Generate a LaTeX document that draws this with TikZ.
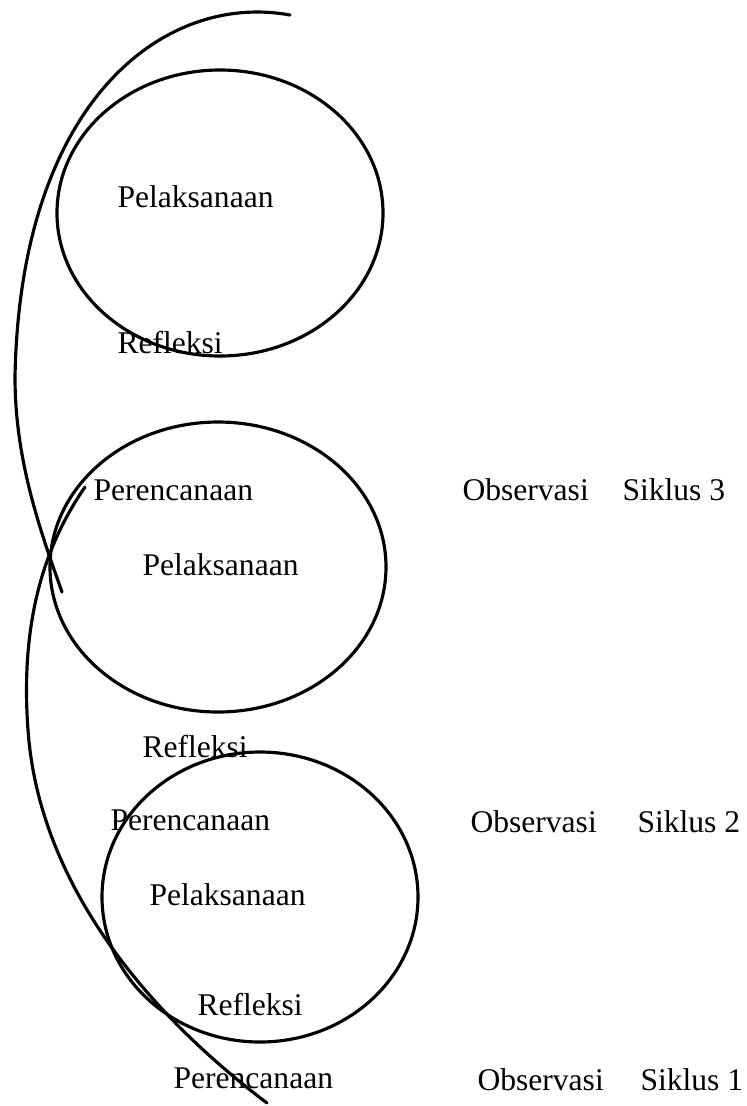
\documentclass[tikz,border=0pt]{standalone}
\usepackage{fontspec}
\setmainfont{Liberation Serif}
\usepackage{tikz}
\tikzset{>=latex}
\usetikzlibrary{calc}
\tikzset{lbl/.style={anchor=base west,inner sep=0pt,font=\fontsize{12}{14}\selectfont}}

\begin{document}
\begin{tikzpicture}[line cap=round,line join=round,x=0.38pt,y=-0.38pt]
			\useasboundingbox (0,0) rectangle (747,1106);
			\draw[line width=1.2pt] (220,213) ellipse [x radius=163,y radius=143];
			\draw[line width=1.2pt] (218,567) ellipse [x radius=168,y radius=145];
			\draw[line width=1.2pt] (260,897) ellipse [x radius=158,y radius=145];
			\draw[line width=1.2pt] (290,15) .. controls (165,-8) and (20,100) .. (15,377)
				.. controls (15,460) and (40,530) .. (62,592);
			\draw[line width=1.2pt] (85,487) .. controls (45,545) and (20,620) .. (28,730)
				.. controls (40,900) and (170,1030) .. (267,1103);
			\node[lbl] (pel3) at (117,207) {Pelaksanaan};
			\node[lbl] (ref3) at (117,353) {Refleksi};
			\node[lbl] (per3) at (93,500) {Perencanaan};
			\node[lbl] (obs3) at (462,500) {Observasi};
			\node[lbl] (sik3) at (622,500) {Siklus 3};
			\node[lbl] (pel2) at (142,575) {Pelaksanaan};
			\node[lbl] (ref2) at (142,757) {Refleksi};
			\node[lbl] (per2) at (110,830) {Perencanaan};
			\node[lbl] (obs2) at (470,832) {Observasi};
			\node[lbl] (sik2) at (637,832) {Siklus 2};
			\node[lbl] (pel1) at (149,905) {Pelaksanaan};
			\node[lbl] (ref1) at (197,1015) {Refleksi};
			\node[lbl] (per1) at (173,1088) {Perencanaan};
			\node[lbl] (obs1) at (477,1090) {Observasi};
			\node[lbl] (sik1) at (640,1090) {Siklus 1};
			\end{tikzpicture}
\end{document}
